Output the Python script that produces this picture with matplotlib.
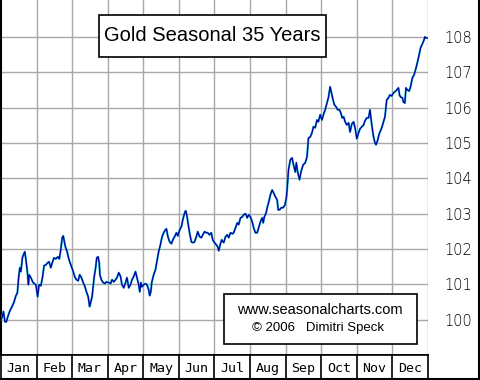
import matplotlib
matplotlib.use("Agg")
import matplotlib.pyplot as plt
from matplotlib.lines import Line2D
from matplotlib.patches import Rectangle

# time in months (0 = 1 Jan, 12 = 31 Dec) and seasonal index value
t = [
    0.00, 0.03, 0.07, 0.11, 0.15, 0.20, 0.25, 0.31, 0.36, 0.42, 0.46, 0.50, 0.53,
    0.56, 0.60, 0.64, 0.67, 0.70, 0.74, 0.77, 0.79, 0.84, 0.89, 0.93, 0.98, 1.03,
    1.07, 1.12, 1.17, 1.21, 1.26, 1.31, 1.35, 1.40, 1.45, 1.49, 1.54, 1.60, 1.64,
    1.68, 1.72, 1.75, 1.77, 1.81, 1.86, 1.89, 1.93,
    1.98, 2.03, 2.07, 2.12, 2.17, 2.21, 2.26, 2.31, 2.36, 2.40, 2.45, 2.49, 2.52,
    2.56, 2.59, 2.62, 2.66, 2.69, 2.73, 2.76, 2.78, 2.82, 2.87, 2.92, 2.96,
    3.03, 3.08, 3.12, 3.17, 3.22, 3.26, 3.31, 3.36, 3.40, 3.45, 3.50, 3.54, 3.59,
    3.64, 3.68, 3.73, 3.78, 3.82, 3.87, 3.90, 3.93,
    3.96, 4.01, 4.06, 4.10, 4.15, 4.18, 4.21, 4.24, 4.29, 4.34, 4.38, 4.43, 4.48,
    4.52, 4.57, 4.62, 4.65, 4.69, 4.74, 4.79, 4.83, 4.88, 4.93, 4.97,
    5.02, 5.07, 5.11, 5.16, 5.19, 5.22, 5.25, 5.30, 5.35, 5.39, 5.44, 5.49, 5.53,
    5.58, 5.63, 5.67, 5.72, 5.77, 5.81, 5.86, 5.91, 5.95,
    6.00, 6.05, 6.09, 6.12, 6.16, 6.20, 6.26, 6.31, 6.36, 6.40, 6.45, 6.50, 6.54,
    6.59, 6.64, 6.68, 6.73, 6.78, 6.82, 6.87, 6.92, 6.96,
    7.01, 7.06, 7.10, 7.15, 7.20, 7.24, 7.29, 7.34, 7.37, 7.40, 7.45, 7.48, 7.52,
    7.57, 7.62, 7.66, 7.71, 7.76, 7.79, 7.83, 7.88, 7.93, 7.98,
    8.02, 8.04, 8.08, 8.13, 8.18, 8.22, 8.27, 8.30, 8.34, 8.39, 8.43, 8.49, 8.55,
    8.60, 8.64, 8.69, 8.74, 8.78, 8.83, 8.88, 8.92, 8.97,
    9.02, 9.06, 9.11, 9.16, 9.20, 9.25, 9.28, 9.33, 9.37, 9.42, 9.46, 9.51, 9.55,
    9.59, 9.63, 9.67, 9.72, 9.77, 9.81, 9.86, 9.91, 9.95,
    10.00, 10.05, 10.09, 10.14, 10.19, 10.23, 10.28, 10.33, 10.37, 10.42, 10.47,
    10.51, 10.54, 10.58, 10.63, 10.70, 10.75, 10.79, 10.84, 10.89, 10.93, 10.98,
    11.03, 11.07, 11.12, 11.17, 11.20, 11.23, 11.28, 11.31, 11.35, 11.38, 11.42,
    11.47, 11.51, 11.56, 11.61, 11.65, 11.70, 11.75, 11.79, 11.84, 11.89, 11.91,
    11.95, 11.98,
]
value = [
    100.00, 100.06, 100.23, 99.94, 99.94, 100.11, 100.25, 100.37, 100.48, 100.68,
    100.76, 101.24, 101.47, 101.36, 101.75, 101.86, 101.92, 101.70, 101.36, 100.99,
    101.27, 101.19, 101.07, 101.02, 100.99, 100.65,
    100.99, 100.96, 101.22, 101.53, 101.55, 101.61, 101.64, 101.47, 101.64, 101.75,
    101.72, 101.78, 101.72, 101.98, 102.32, 102.37, 102.26, 102.06, 101.92, 101.78,
    101.64,
    101.50, 101.36, 101.22, 101.13, 101.10, 101.27, 101.19, 101.05, 100.93, 100.79,
    100.65, 100.37, 100.48, 100.65, 100.93, 101.22, 101.47, 101.75, 101.78, 101.61,
    101.27, 101.13, 101.05, 101.02, 101.07,
    101.05, 101.02, 101.13, 101.07, 101.13, 101.19, 101.33, 101.22, 100.99, 100.90,
    101.05, 101.19, 100.90, 100.99, 101.13, 101.22, 101.36, 101.19, 100.99, 100.79,
    101.05,
    100.93, 100.99, 101.02, 100.99, 100.85, 100.68, 100.79, 101.07, 101.27, 101.41,
    101.64, 101.92, 102.12, 102.32, 102.46, 102.54, 102.57, 102.35, 102.20, 102.15,
    102.26, 102.35, 102.46, 102.37,
    102.54, 102.63, 102.83, 103.02, 103.08, 102.97, 102.77, 102.46, 102.20, 102.18,
    102.20, 102.35, 102.49, 102.35, 102.32, 102.40, 102.49, 102.46, 102.46, 102.40,
    102.46, 102.26,
    102.18, 102.12, 102.06, 101.95, 102.12, 102.26, 102.18, 102.35, 102.40, 102.32,
    102.46, 102.43, 102.46, 102.60, 102.74, 102.69, 102.88, 102.91, 102.97, 103.00,
    102.88, 102.97,
    102.91, 102.77, 102.60, 102.46, 102.46, 102.60, 102.77, 102.88, 102.74, 102.91,
    103.02, 103.17, 103.31, 103.53, 103.67, 103.59, 103.48, 103.39, 103.11, 103.11,
    103.17, 103.17, 103.25,
    103.45, 103.67, 104.24, 104.52, 104.58, 104.38, 104.18, 104.44, 104.16, 103.96,
    104.18, 104.38, 104.44, 104.61, 105.14, 105.17, 105.29, 105.46, 105.43, 105.65,
    105.60, 105.80,
    105.65, 105.80, 105.94, 106.13, 106.28, 106.59, 106.45, 106.22, 106.08, 106.02,
    105.94, 105.94, 105.85, 105.71, 105.74, 105.60, 105.51, 105.57, 105.31, 105.54,
    105.60, 105.43,
    105.12, 105.29, 105.40, 105.46, 105.51, 105.63, 105.71, 105.71, 105.94, 105.51,
    105.17, 105.00, 104.95, 105.06, 105.26, 105.43, 105.60, 105.74, 106.22, 106.28,
    106.36, 106.33,
    106.42, 106.45, 106.50, 106.56, 106.36, 106.30, 106.28, 106.16, 106.13, 106.56,
    106.50, 106.47, 106.59, 106.84, 106.93, 107.07, 107.27, 107.49, 107.69, 107.80,
    107.92, 108.00, 107.97, 107.97,
]

months = ["Jan", "Feb", "Mar", "Apr", "May", "Jun",
          "Jul", "Aug", "Sep", "Oct", "Nov", "Dec"]
yticks = [100, 101, 102, 103, 104, 105, 106, 107, 108]

title = "Gold Seasonal 35 Years"
credit1 = "www.seasonalcharts.com"
credit2 = "\u00a9 2006   Dimitri Speck"

W, H = 480, 380
fig = plt.figure(figsize=(4.8, 3.8), dpi=100)
fig.patch.set_facecolor("white")

grid_c = "#a8a8a8"
ytop = 109.046

# main plot
ax = fig.add_axes([1 / W, 25 / H, 427 / W, 355 / H])
ax.set_xlim(0, 12)
ax.set_ylim(99, ytop)
for m in range(1, 13):
    ax.axvline(m, color=grid_c, lw=1.0, zorder=1)
for v in yticks:
    ax.axhline(v, color=grid_c, lw=1.0, zorder=1)

ax.plot(t, value, color="#22b8d8", lw=1.5, zorder=3)
ax.plot(t, value, color="#00009c", lw=0.9, zorder=4)

ax.set_xticks([])
ax.yaxis.tick_right()
ax.set_yticks(yticks)
ax.set_yticklabels([str(v) for v in yticks])
ax.tick_params(axis="y", length=0, pad=12, labelsize=10.5)
for lab in ax.get_yticklabels():
    lab.set_family("DejaVu Sans")
    lab.set_fontweight("light")
ax.spines["top"].set_visible(False)
ax.spines["right"].set_visible(False)
ax.spines["left"].set_color("black")
ax.spines["left"].set_linewidth(1.5)
ax.spines["bottom"].set_color("black")
ax.spines["bottom"].set_linewidth(1.2)

# title box
ax.add_patch(Rectangle((98 / 428 * 12, ytop - 57 / 35.375), 228 / 428 * 12,
                       42 / 35.375, facecolor="white", edgecolor="black",
                       lw=1.2, zorder=5))
ax.text(212 / 428 * 12, ytop - 36 / 35.375, title, ha="center", va="center",
        fontsize=14.5, family="Liberation Sans", zorder=6)

# credit box
ax.add_patch(Rectangle((224 / 428 * 12, ytop - 344 / 35.375), 193 / 428 * 12,
                       50 / 35.375, facecolor="white", edgecolor="black",
                       lw=1.2, zorder=5))
ax.text(320 / 428 * 12, ytop - 310 / 35.375, credit1, ha="center",
        va="center", fontsize=10.5, family="Liberation Sans", zorder=6)
ax.text(318 / 428 * 12, ytop - 328 / 35.375, credit2, ha="center",
        va="center", fontsize=9.5, family="Liberation Sans", zorder=6)

# month strip
axm = fig.add_axes([1 / W, 1 / H, 427 / W, 24 / H])
axm.set_xlim(0, 12)
axm.set_ylim(0, 1)
for m in range(1, 12):
    axm.axvline(m, color="black", lw=1.2)
for i, name in enumerate(months):
    axm.text(i + 0.5, 0.45, name, ha="center", va="center", fontsize=9.5,
             family="DejaVu Sans Mono")
axm.set_xticks([])
axm.set_yticks([])
for s in axm.spines.values():
    s.set_color("black")
    s.set_linewidth(1.2)

# outer frame
fig.add_artist(Line2D([1 - 1 / W, 1 - 1 / W], [0, 1], color="black", lw=1.5,
                      transform=fig.transFigure))
fig.add_artist(Line2D([0, 1], [1 / H, 1 / H], color="black", lw=1.5,
                      transform=fig.transFigure))

fig.savefig("out.png", dpi=100)
